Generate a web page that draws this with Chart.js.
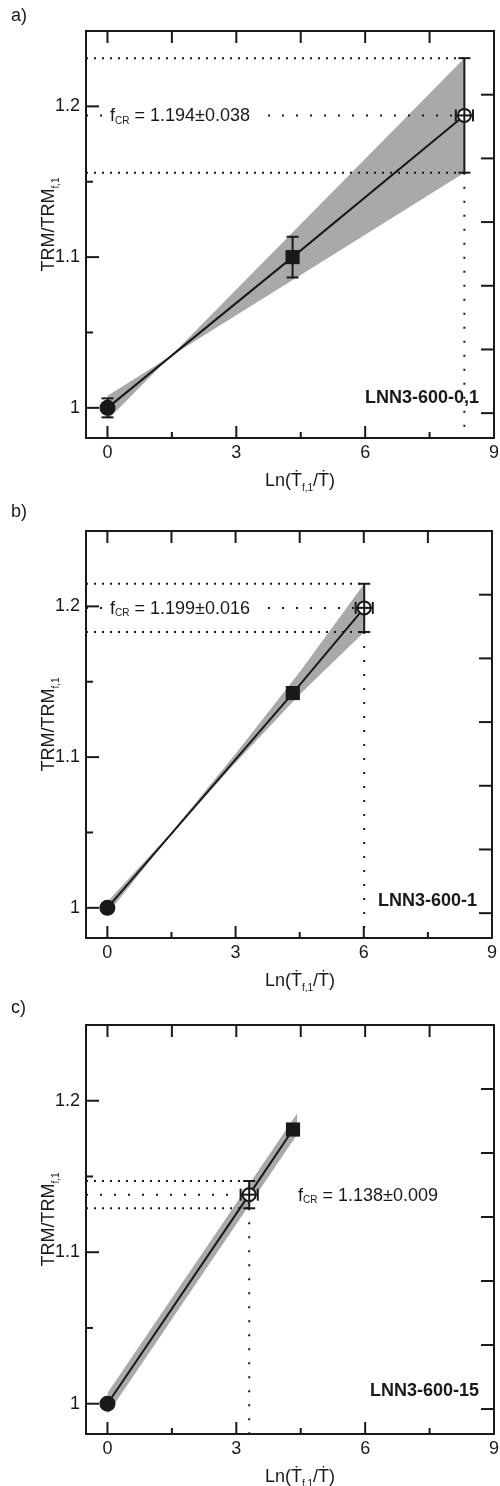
<!DOCTYPE html>
<html>
<head>
<meta charset="utf-8">
<script src="https://cdn.jsdelivr.net/npm/chart.js@4.4.1/dist/chart.umd.min.js"></script>
<style>
  body { margin: 0; background: #fff; width: 500px; height: 1486px; overflow: hidden; position: relative; }
  canvas { position: absolute; left: 0; }
</style>
</head>
<body>
<canvas id="pa" width="500" height="496" style="top:0px"></canvas>
<canvas id="pb" width="500" height="496" style="top:496px"></canvas>
<canvas id="pc" width="500" height="494" style="top:992px"></canvas>
<script>
// shared axis ticks
const xTicks = [0, 3, 6, 9];
const xMinor = [1.5, 4.5, 7.5];
const yTicks = [1, 1.1, 1.2];
const yMinor = [1.05, 1.15];
const rightTicks = [0, 1, 2, 3, 4, 5];

// a) LNN3-600-0,1 : first point, reference rate, extrapolated cooling rate
const aX = [0, 4.31, 8.31];
const aY = [1.0, 1.1, 1.194];
const aYErr = [0.0063, 0.0135, 0.038];
const aXErr = [0, 0, 0.2];
const aBandX = [0, 1.46, 8.31];
const aBandHi = [0.992, 1.034, 1.232];
const aBandLo = [1.008, 1.034, 1.156];

// b) LNN3-600-1
const bX = [0, 4.34, 6.01];
const bY = [1.0, 1.1425, 1.199];
const bYErr = [0, 0, 0.016];
const bXErr = [0, 0, 0.2];
const bBandX = [0, 1.5, 3, 4.5, 6.01];
const bBandHi = [1.004, 1.0502, 1.1023, 1.1565, 1.215];
const bBandLo = [0.996, 1.0492, 1.0963, 1.1415, 1.183];

// c) LNN3-600-15
const cX = [0, 4.32, 3.30];
const cY = [1.0, 1.181, 1.138];
const cYErr = [0, 0, 0.009];
const cXErr = [0, 0, 0.2];
const cBandX = [0, 4.42];
const cBandHi = [1.007, 1.1918];
const cBandLo = [0.993, 1.1778];

const INK = '#1a1819';
const BAND = '#a9a9a9';
const FONT = '"Liberation Sans", Arial, Helvetica, sans-serif';
const X_MIN = -0.5, X_MAX = 9, Y_MIN = 0.98, Y_MAX = 1.25;

// draws a run of text pieces, subscripts smaller and lowered; returns width
function richText(ctx, parts, x, y, size, draw) {
  let w = 0;
  parts.forEach(p => {
    ctx.font = (p.sub ? Math.round(size * 0.58) : size) + 'px ' + FONT;
    if (draw) ctx.fillText(p.t, x + w, y + (p.sub ? size * 0.25 : 0));
    w += ctx.measureText(p.t).width;
  });
  return w;
}

function seg(ctx, x1, y1, x2, y2) {
  ctx.beginPath(); ctx.moveTo(x1, y1); ctx.lineTo(x2, y2); ctx.stroke();
}

function makeDecor(p) {
  return {
    id: 'decor',
    afterDatasetsDraw(chart) {
      const { ctx, chartArea: a, scales: { x, y, y2 } } = chart;
      ctx.save();
      ctx.strokeStyle = INK;
      ctx.fillStyle = INK;
      ctx.lineWidth = 2;

      // error bars with caps
      p.x.forEach((xv, i) => {
        const px = x.getPixelForValue(xv), py = y.getPixelForValue(p.y[i]);
        if (p.yErr[i]) {
          const t = y.getPixelForValue(p.y[i] + p.yErr[i]);
          const b = y.getPixelForValue(p.y[i] - p.yErr[i]);
          seg(ctx, px, t, px, b);
          seg(ctx, px - 6, t, px + 6, t);
          seg(ctx, px - 6, b, px + 6, b);
        }
        if (p.xErr[i]) {
          const l = x.getPixelForValue(xv - p.xErr[i]);
          const r = x.getPixelForValue(xv + p.xErr[i]);
          seg(ctx, l, py, r, py);
          seg(ctx, l, py - 6, l, py + 6);
          seg(ctx, r, py - 6, r, py + 6);
        }
      });

      // frame
      ctx.strokeRect(a.left, a.top, a.right - a.left, a.bottom - a.top);

      // inward ticks
      xTicks.forEach(v => {
        const px = x.getPixelForValue(v);
        seg(ctx, px, a.bottom, px, a.bottom - 12);
        seg(ctx, px, a.top, px, a.top + 12);
      });
      xMinor.forEach(v => {
        const px = x.getPixelForValue(v);
        seg(ctx, px, a.bottom, px, a.bottom - 6);
        seg(ctx, px, a.top, px, a.top + 12);
      });
      yTicks.forEach(v => {
        const py = y.getPixelForValue(v);
        seg(ctx, a.left, py, a.left + 13, py);
      });
      yMinor.forEach(v => {
        const py = y.getPixelForValue(v);
        seg(ctx, a.left, py, a.left + 7, py);
      });
      rightTicks.forEach(v => {
        const py = y2.getPixelForValue(v);
        seg(ctx, a.right, py, a.right - 13, py);
      });

      // f_CR value label
      const ci = p.x.length - 1;
      const label = [
        { t: 'f' }, { t: 'CR', sub: true },
        { t: ' = ' + p.y[ci].toFixed(3) + '\u00b1' + p.yErr[ci].toFixed(3) }
      ];
      const ly = y.getPixelForValue(p.y[ci]);
      ctx.textBaseline = 'middle';
      ctx.textAlign = 'left';
      const lw = richText(ctx, label, 0, 0, 18, false);
      const lx = a.left + p.crTextX;
      if (p.crClear) {
        ctx.fillStyle = '#fff';
        ctx.fillRect(lx - 6, ly - 8, lw + 14, 16);
        ctx.fillStyle = INK;
      }
      richText(ctx, label, lx, ly + 1, 18, true);

      // sample name
      ctx.font = 'bold 18px ' + FONT;
      ctx.textAlign = 'right';
      ctx.fillText(p.name, a.right - 15, a.bottom - p.nameUp);

      // axis titles
      ctx.textAlign = 'left';
      ctx.textBaseline = 'alphabetic';
      const xt = [
        { t: 'Ln(' }, { t: '\u1E6A' }, { t: 'f,1', sub: true },
        { t: '/' }, { t: '\u1E6A' }, { t: ')' }
      ];
      const xw = richText(ctx, xt, 0, 0, 18, false);
      richText(ctx, xt, 300 - xw / 2, a.bottom + 48, 18, true);

      const yt = [{ t: 'TRM/TRM' }, { t: 'f,1', sub: true }];
      const yw = richText(ctx, yt, 0, 0, 18, false);
      ctx.save();
      ctx.translate(54, (a.top + a.bottom) / 2 - 10);
      ctx.rotate(-Math.PI / 2);
      richText(ctx, yt, -yw / 2, 0, 18, true);
      ctx.restore();

      // panel letter
      ctx.font = '18px ' + FONT;
      ctx.textBaseline = 'middle';
      ctx.fillText(p.letter, 11, 16);
      ctx.restore();
    }
  };
}

function pts(xs, ys) {
  return xs.map((v, i) => ({ x: v, y: ys[i] }));
}

function makePanel(id, p) {
  const canvas = document.getElementById(id);
  const H = canvas.height;
  const ci = p.x.length - 1;
  const xcr = p.x[ci], ycr = p.y[ci], ecr = p.yErr[ci];
  const fit = pts(p.x, p.y).sort((m, n) => m.x - n.x);
  const dotted = { showLine: true, borderColor: INK, borderWidth: 2, pointRadius: 0, borderCapStyle: 'butt', order: 2 };

  new Chart(canvas, {
    type: 'scatter',
    data: {
      datasets: [
        {
          data: pts(p.x, p.y),
          pointStyle: ['circle', 'rect', 'circle'],
          pointRadius: [8, 10, 6.5],
          pointBackgroundColor: [INK, INK, '#fff'],
          pointBorderColor: INK,
          pointBorderWidth: [0, 0, 2],
          order: 0
        },
        { data: fit, showLine: true, borderColor: INK, borderWidth: 2, pointRadius: 0, order: 1 },
        { ...dotted, data: [{ x: X_MIN, y: ycr + ecr }, { x: xcr, y: ycr + ecr }], borderDash: [2, 6] },
        { ...dotted, data: [{ x: X_MIN, y: ycr }, { x: xcr, y: ycr }], borderDash: [2, 12] },
        { ...dotted, data: [{ x: X_MIN, y: ycr - ecr }, { x: xcr, y: ycr - ecr }], borderDash: [2, 6] },
        { ...dotted, data: [{ x: xcr, y: ycr - ecr }, { x: xcr, y: Y_MIN }], borderDash: [2, 12] },
        { data: pts(p.bandX, p.bandHi), showLine: true, borderWidth: 0, pointRadius: 0, backgroundColor: BAND, fill: '+1', order: 3 },
        { data: pts(p.bandX, p.bandLo), showLine: true, borderWidth: 0, pointRadius: 0, backgroundColor: BAND, fill: false, order: 3 }
      ]
    },
    options: {
      responsive: false,
      animation: false,
      devicePixelRatio: 1,
      layout: { autoPadding: false, padding: { top: p.top, right: 500 - p.right, left: 0, bottom: 0 } },
      plugins: { legend: { display: false }, tooltip: { enabled: false } },
      scales: {
        x: {
          type: 'linear', min: X_MIN, max: X_MAX,
          afterBuildTicks: s => { s.ticks = xTicks.map(v => ({ value: v })); },
          afterFit: s => { s.height = H - p.bottom; s.paddingLeft = 0; s.paddingRight = 0; },
          grid: { display: false, drawTicks: false },
          border: { display: false },
          ticks: { padding: 4, autoSkip: false, maxRotation: 0, color: INK, font: { family: FONT, size: 18 }, callback: v => String(v) }
        },
        y: {
          min: Y_MIN, max: Y_MAX,
          afterBuildTicks: s => { s.ticks = yTicks.map(v => ({ value: v })); },
          afterFit: s => { s.width = 86; s.paddingTop = 0; s.paddingBottom = 0; },
          grid: { display: false, drawTicks: false },
          border: { display: false },
          ticks: { padding: 6, color: INK, font: { family: FONT, size: 18 }, callback: v => String(v) }
        },
        y2: { position: 'right', display: false, min: -0.39, max: 6 }
      }
    },
    plugins: [makeDecor(p)]
  });
}

makePanel('pa', {
  x: aX, y: aY, yErr: aYErr, xErr: aXErr,
  bandX: aBandX, bandHi: aBandHi, bandLo: aBandLo,
  top: 31, bottom: 438, right: 494,
  name: 'LNN3-600-0,1', nameUp: 40, letter: 'a)', crTextX: 24, crClear: true
});
makePanel('pb', {
  x: bX, y: bY, yErr: bYErr, xErr: bXErr,
  bandX: bBandX, bandHi: bBandHi, bandLo: bBandLo,
  top: 35, bottom: 442, right: 492,
  name: 'LNN3-600-1', nameUp: 37, letter: 'b)', crTextX: 24, crClear: true
});
makePanel('pc', {
  x: cX, y: cY, yErr: cYErr, xErr: cXErr,
  bandX: cBandX, bandHi: cBandHi, bandLo: cBandLo,
  top: 33, bottom: 442, right: 494,
  name: 'LNN3-600-15', nameUp: 43, letter: 'c)', crTextX: 212, crClear: false
});
</script>
</body>
</html>
